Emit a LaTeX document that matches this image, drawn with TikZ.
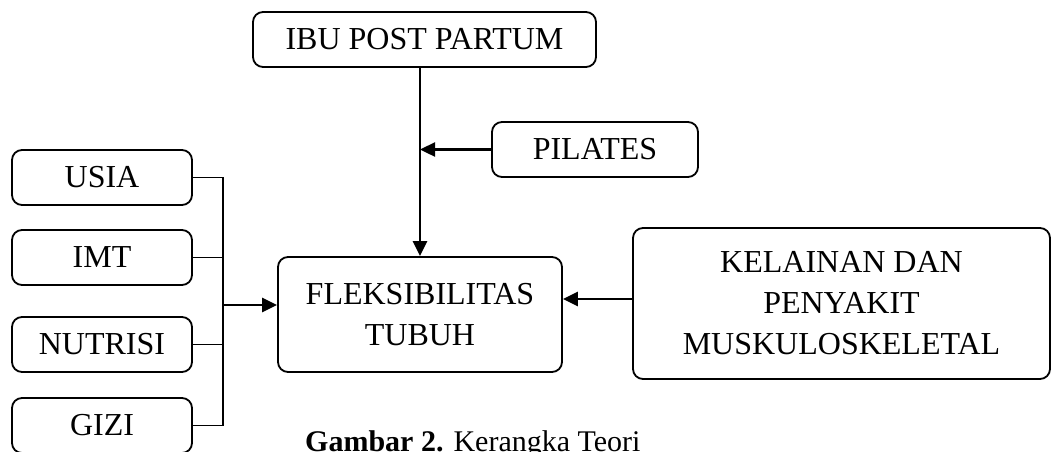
\documentclass[tikz,border=0pt]{standalone}
\usepackage{fontspec}
\setmainfont{Liberation Serif}
\usetikzlibrary{arrows.meta}
\tikzset{
  kotak/.style={draw, line width=1.8pt, rounded corners=10pt, inner sep=0pt, align=center,
    font=\fontsize{32}{41}\selectfont},
  panah/.style={line width=2.4pt, -{Triangle[length=15pt,width=14pt]}},
  garis/.style={line width=1.8pt}
}
\begin{document}
\begin{tikzpicture}[x=1pt,y=-1pt]
\useasboundingbox (0,0) rectangle (1051,451);
\clip (0,0) rectangle (1051,451);
% kotak utama
\node[kotak, minimum width=343pt, minimum height=55pt] (ibu) at (424.5,39.5) {IBU POST PARTUM};
\node[kotak, minimum width=206pt, minimum height=55pt] (pilates) at (595,149.5) {PILATES};
\node[kotak, minimum width=284pt, minimum height=115pt] (flek) at (420,314.5) {FLEKSIBILITAS\\TUBUH};
\node[kotak, minimum width=417pt, minimum height=151pt] (kelainan) at (841.5,303.5) {KELAINAN DAN\\PENYAKIT\\MUSKULOSKELETAL};
% faktor di kiri
\node[kotak, minimum width=180pt, minimum height=55pt] (usia) at (102,177.5) {USIA};
\node[kotak, minimum width=180pt, minimum height=55pt] (imt) at (102,257.5) {IMT};
\node[kotak, minimum width=180pt, minimum height=55pt] (nutrisi) at (102,344.5) {NUTRISI};
\node[kotak, minimum width=180pt, minimum height=55pt] (gizi) at (102,425.5) {GIZI};
\coordinate (busatas) at (223,177.5);
\coordinate (busbawah) at (223,425.5);
\coordinate (masuk) at (223,305);
\coordinate (kanan) at (633,299);
% penghubung
\draw[panah] (ibu.south -| flek.north) -- (flek.north);
\draw[panah] (pilates.west) -- (pilates.west -| flek.north);
\draw[panah] (kanan) -- (kanan -| flek.east);
\draw[garis] (usia.east) -- (busatas) -- (busbawah) -- (gizi.east);
\draw[garis] (imt.east) -- (imt.east -| busatas);
\draw[garis] (nutrisi.east) -- (nutrisi.east -| busatas);
\draw[panah] (masuk) -- (masuk -| flek.west);
% judul gambar
\node[anchor=base west, inner sep=0pt, font=\fontsize{30}{36}\selectfont] (judul) at (305,451) {\textbf{Gambar 2.} Kerangka Teori};
\end{tikzpicture}
\end{document}
